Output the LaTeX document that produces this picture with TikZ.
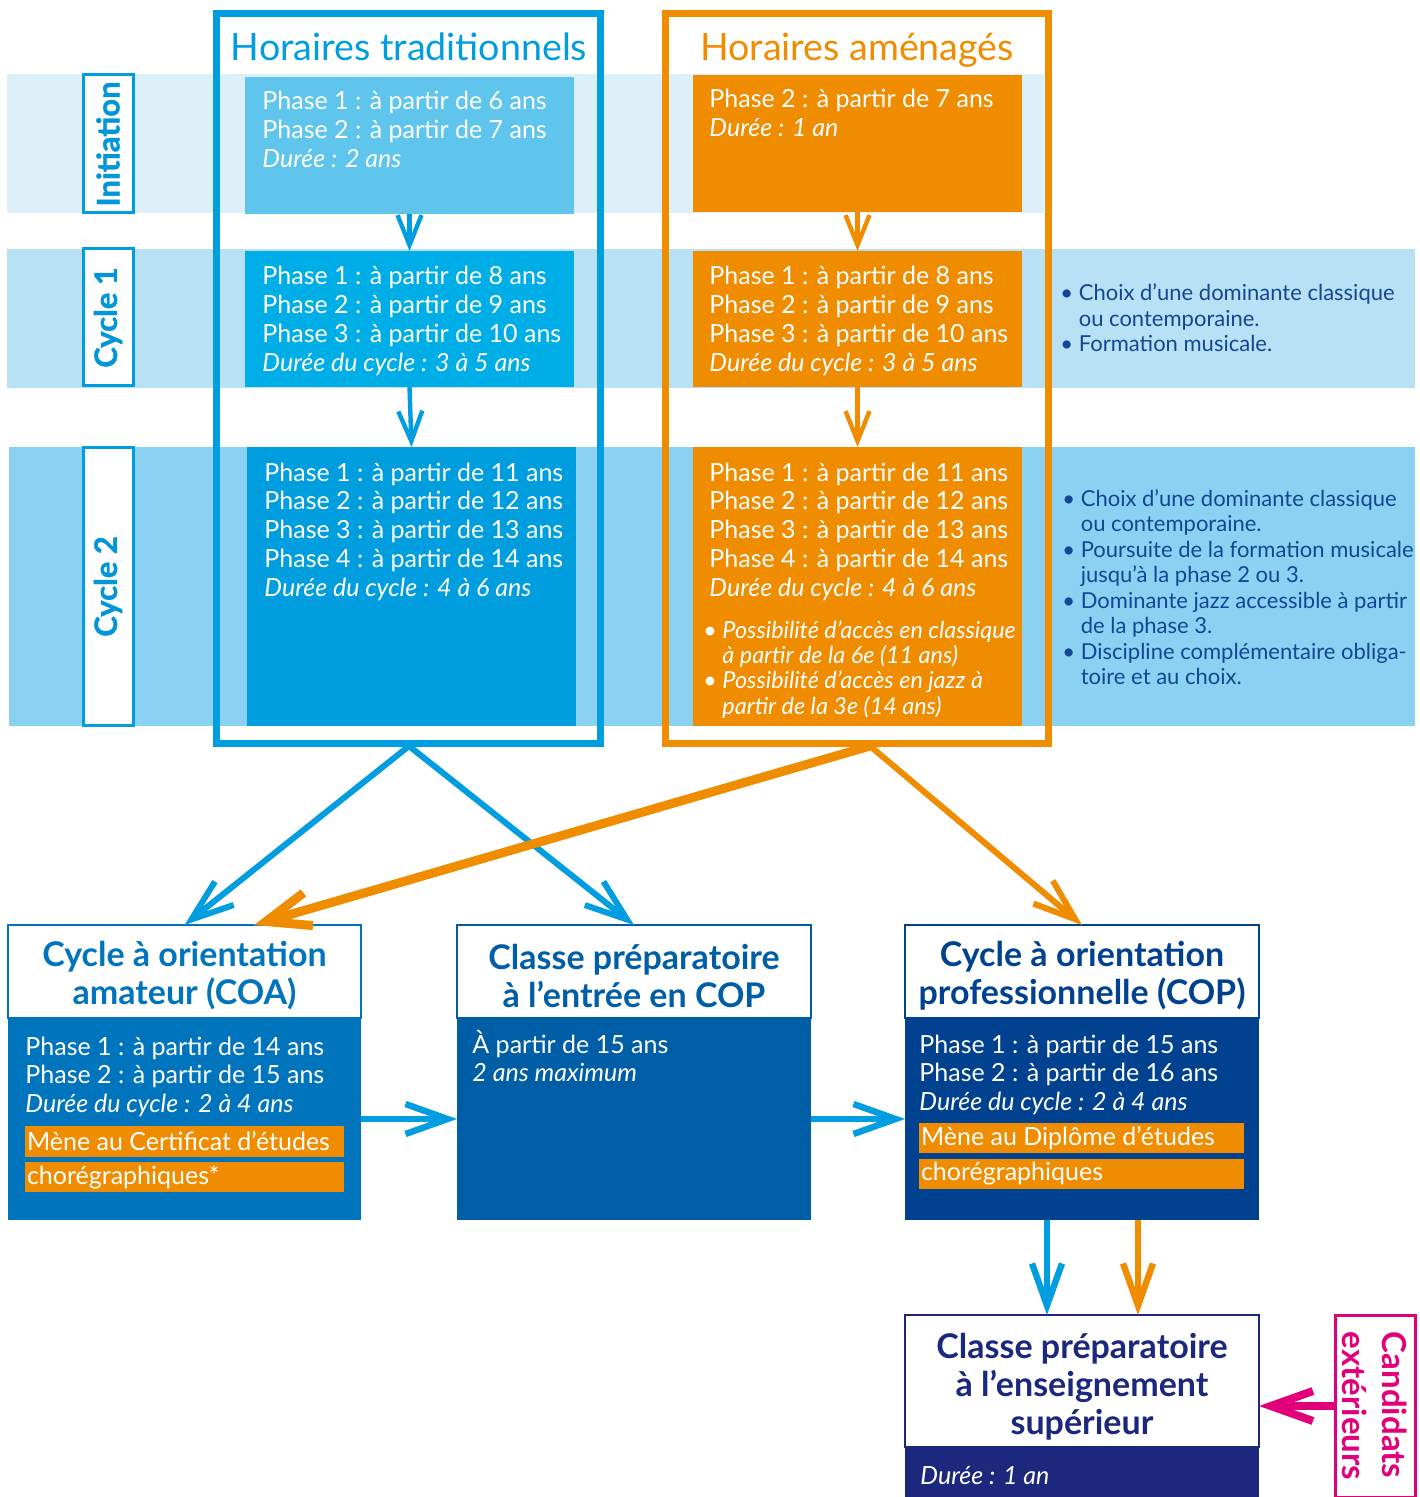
\documentclass[tikz,border=0pt]{standalone}
\usepackage{fontspec}
\setmainfont{Lato}
\usetikzlibrary{arrows.meta,calc}
\definecolor{bandA}{RGB}{221,239,249}
\definecolor{bandB}{RGB}{184,225,245}
\definecolor{bandC}{RGB}{139,209,241}
\definecolor{cyanF}{RGB}{0,158,224}
\definecolor{tradA}{RGB}{95,197,236}
\definecolor{tradB}{RGB}{0,174,231}
\definecolor{tradC}{RGB}{0,158,223}
\definecolor{orng}{RGB}{240,140,0}
\definecolor{noteblue}{RGB}{20,70,150}
\definecolor{coaB}{RGB}{0,117,190}
\definecolor{prepB}{RGB}{0,94,166}
\definecolor{copB}{RGB}{0,66,143}
\definecolor{supB}{RGB}{27,40,125}
\definecolor{magen}{RGB}{226,0,122}
\definecolor{labT}{RGB}{0,150,215}
\newcommand\mlines[1]{\begin{tabular}[t]{@{}l@{}}#1\end{tabular}}
\begin{document}
\begin{tikzpicture}[x=0.5pt,y=-0.5pt,
  blk/.style={anchor=north west, inner sep=0pt, outer sep=0pt, draw=none},
  lab/.style={anchor=north west, inner sep=0pt, outer sep=0pt, fill=white, draw=cyanF, line width=1.5pt},
  labtxt/.style={rotate=90, text=labT, font=\bfseries\fontsize{15.5}{18}\selectfont\addfontfeature{FakeBold=1.2}},
  frm/.style={anchor=north west, inner sep=0pt, outer sep=0pt, line width=3.5pt},
  txt/.style={anchor=base west, inner sep=0pt, text=white},
  bodyf/.style={font=\fontsize{12.5}{14.4}\selectfont},
  notef/.style={txt, text=noteblue, font=\fontsize{11}{12.75}\selectfont},
  hdr/.style={anchor=north west, inner sep=0pt, outer sep=0pt, fill=white, line width=1.3pt},
  hdrtxt/.style={inner sep=0pt, align=center, font=\bfseries\fontsize{17}{19}\selectfont},
  bar/.style={anchor=north west, outer sep=0pt, fill=orng, inner xsep=1pt, inner ysep=0pt, text=white, font=\fontsize{12.5}{14.4}\selectfont},
  inarr/.style={line width=2.2pt, -{Straight Barb[length=15pt,width=12pt]}},
  bigarr/.style={line width=3.2pt, -{Straight Barb[length=21pt,width=15pt]}},
]
\useasboundingbox (0,0) rectangle (1419,1497);

% bands
\fill[bandA] (7,74) rectangle (1044,213);
\fill[bandB] (7,249) rectangle (1415,388);
\fill[bandC] (9,447) rectangle (1415,726);

% level labels
\node[lab, minimum width=25pt, minimum height=69pt] (labI) at (83,75) {};
\node[labtxt] (labItxt) at (labI.center) {Initiation};
\node[lab, minimum width=25pt, minimum height=68.5pt] (labA) at (83,249) {};
\node[labtxt] (labAtxt) at (labA.center) {Cycle 1};
\node[lab, minimum width=25pt, minimum height=138.5pt] (labB) at (83,448) {};
\node[labtxt] (labBtxt) at (labB.center) {Cycle 2};

% traditional boxes
\node[blk, fill=tradA, minimum width=164.5pt, minimum height=68.5pt] (t0) at (245,77) {};
\node[blk, fill=tradB, minimum width=164.5pt, minimum height=68pt] (t1) at (245,251) {};
\node[blk, fill=tradC, minimum width=164.5pt, minimum height=139.5pt] (t2) at (247,447) {};
% amenages boxes
\node[blk, fill=orng, minimum width=164.5pt, minimum height=68.5pt] (o0) at (693,75) {};
\node[blk, fill=orng, minimum width=164.5pt, minimum height=68pt] (o1) at (693,251) {};
\node[blk, fill=orng, minimum width=164.5pt, minimum height=139.5pt] (o2) at (693,447) {};

% frames
\node[frm, draw=cyanF, minimum width=192pt, minimum height=364.75pt] (bframe) at (216.5,13.5) {};
\node[frm, draw=orng, minimum width=191.5pt, minimum height=364.75pt] (oframe) at (665.5,13.5) {};

% titles
\node[anchor=base, inner sep=0pt, text=cyanF, font=\fontsize{18.8}{22}\selectfont] (ttrad) at (409,61) {Horaires traditionnels};
\node[anchor=base, inner sep=0pt, text=orng, font=\fontsize{18.8}{22}\selectfont] (tamen) at (857,61) {Horaires aménagés};

% texts in boxes
\node[txt, bodyf] (t0t) at (262,110) {\mlines{Phase 1 : à partir de 6 ans\\Phase 2 : à partir de 7 ans\\\textit{Durée : 2 ans}}};
\node[txt, bodyf] (t1t) at (262,285) {\mlines{Phase 1 : à partir de 8 ans\\Phase 2 : à partir de 9 ans\\Phase 3 : à partir de 10 ans\\\textit{Durée du cycle : 3 à 5 ans}}};
\node[txt, bodyf] (t2t) at (264,481) {\mlines{Phase 1 : à partir de 11 ans\\Phase 2 : à partir de 12 ans\\Phase 3 : à partir de 13 ans\\Phase 4 : à partir de 14 ans\\\textit{Durée du cycle : 4 à 6 ans}}};
\node[txt, bodyf] (o0t) at (709,108) {\mlines{Phase 2 : à partir de 7 ans\\\textit{Durée : 1 an}}};
\node[txt, bodyf] (o1t) at (709,285) {\mlines{Phase 1 : à partir de 8 ans\\Phase 2 : à partir de 9 ans\\Phase 3 : à partir de 10 ans\\\textit{Durée du cycle : 3 à 5 ans}}};
\node[txt, bodyf] (o2t) at (709,481) {\mlines{Phase 1 : à partir de 11 ans\\Phase 2 : à partir de 12 ans\\Phase 3 : à partir de 13 ans\\Phase 4 : à partir de 14 ans\\\textit{Durée du cycle : 4 à 6 ans}}};
\node[txt, font=\itshape\fontsize{11.7}{12.5}\selectfont] (o2b) at (703,638) {\mlines{• Possibilité d’accès en classique\\\hphantom{• }à partir de la 6e (11 ans)\\• Possibilité d’accès en jazz à\\\hphantom{• }partir de la 3e (14 ans)}};

% right notes
\node[notef] (n1) at (1060,301) {\mlines{• Choix d’une dominante classique\\\hphantom{• }ou contemporaine.\\• Formation musicale.}};
\node[notef] (n2) at (1062,506) {\mlines{• Choix d’une dominante classique\\\hphantom{• }ou contemporaine.\\• Poursuite de la formation musicale\\\hphantom{• }jusqu’à la phase 2 ou 3.\\• Dominante jazz accessible à partir\\\hphantom{• }de la phase 3.\\• Discipline complémentaire obliga-\\\hphantom{• }toire et au choix.}};

% inner arrows
\draw[inarr, cyanF] (t0.south) -- (t1.north);
\draw[inarr, cyanF] (t1.south) -- (t2.north);
\draw[inarr, orng] (o0.south) -- (o1.north);
\draw[inarr, orng] (o1.south) -- (o2.north);

% bottom boxes
\node[hdr, draw=coaB, minimum width=176.5pt, minimum height=46.5pt] (coa) at (8,925) {};
\node[hdrtxt, text=coaB] (coaT) at ($(coa.center)+(0,4)$) {Cycle à orientation\\amateur (COA)};
\node[blk, fill=coaB, minimum width=176.5pt, minimum height=101pt] (coab) at (8,1018) {};
\node[hdr, draw=prepB, minimum width=177pt, minimum height=46.5pt] (prep) at (457,925) {};
\node[hdrtxt, text=prepB] (prepT) at ($(prep.center)+(0,4)$) {Classe préparatoire\\à l’entrée en COP};
\node[blk, fill=prepB, minimum width=177pt, minimum height=101pt] (prepb) at (457,1018) {};
\node[hdr, draw=copB, minimum width=177pt, minimum height=46.5pt] (cop) at (905,925) {};
\node[hdrtxt, text=copB] (copT) at ($(cop.center)+(0,4)$) {Cycle à orientation\\professionnelle (COP)};
\node[blk, fill=copB, minimum width=177pt, minimum height=101pt] (copb) at (905,1018) {};
\node[hdr, draw=supB, minimum width=177pt, minimum height=66pt] (sup) at (905,1315) {};
\node[hdrtxt, text=supB] (supT) at ($(sup.center)+(0,6)$) {Classe préparatoire\\à l’enseignement\\supérieur};
\node[blk, fill=supB, minimum width=177pt, minimum height=25pt] (supb) at (905,1447) {};

\node[txt, bodyf] (coat) at (25,1055) {\mlines{Phase 1 : à partir de 14 ans\\Phase 2 : à partir de 15 ans\\\textit{Durée du cycle : 2 à 4 ans}}};
\node[bar, minimum width=159.5pt, minimum height=15.5pt] (coabar1) at (25,1126) {\makebox[157.5pt][l]{Mène au Certificat d’études}};
\node[bar, minimum width=159.5pt, minimum height=15pt] (coabar2) at (25,1162) {\makebox[157.5pt][l]{chorégraphiques*}};
\node[txt, bodyf] (prept) at (472,1053) {\mlines{À partir de 15 ans\\\textit{2 ans maximum}}};
\node[txt, bodyf] (copt) at (919,1053) {\mlines{Phase 1 : à partir de 15 ans\\Phase 2 : à partir de 16 ans\\\textit{Durée du cycle : 2 à 4 ans}}};
\node[bar, minimum width=162.5pt, minimum height=15pt] (copbar1) at (919,1123) {\makebox[160.5pt][l]{Mène au Diplôme d’études}};
\node[bar, minimum width=162.5pt, minimum height=15pt] (copbar2) at (919,1159) {\makebox[160.5pt][l]{chorégraphiques}};
\node[txt, bodyf] (supt) at (920,1484) {\textit{Durée : 1 an}};

% candidats
\node[anchor=north west, inner sep=0pt, outer sep=0pt, draw=magen, line width=1.5pt, minimum width=40pt, minimum height=91pt] (cand) at (1335,1315) {};
\node[rotate=-90, align=left, text=magen, font=\bfseries\fontsize{16.5}{20}\selectfont] (candt) at (cand.center) {Candidats\\extérieurs};

% connectors
\coordinate (bsrc) at (409,746);
\coordinate (osrc) at (870,746);
\coordinate (coaO) at (254,925);
\draw[bigarr, cyanF, line width=3pt] (bsrc) -- (coa.north);
\draw[bigarr, cyanF, line width=3pt] (bsrc) -- (prep.north);
\draw[bigarr, orng, line width=3pt] (osrc) -- (cop.north);
\draw[orng, line width=4.5pt, -{Straight Barb[length=22pt,width=17pt]}] (osrc) -- (coaO);
\draw[bigarr, cyanF] (coab.east) -- (prepb.west);
\draw[bigarr, cyanF] (prepb.east) -- (copb.west);
\draw[bigarr, cyanF] (copb.south -| 1047,0) -- (sup.north -| 1047,0);
\draw[bigarr, orng] (copb.south -| 1138,0) -- (sup.north -| 1138,0);
\draw[bigarr, magen, line width=4pt] (cand.west) -- (sup.east |- cand.west);
\end{tikzpicture}
\end{document}
